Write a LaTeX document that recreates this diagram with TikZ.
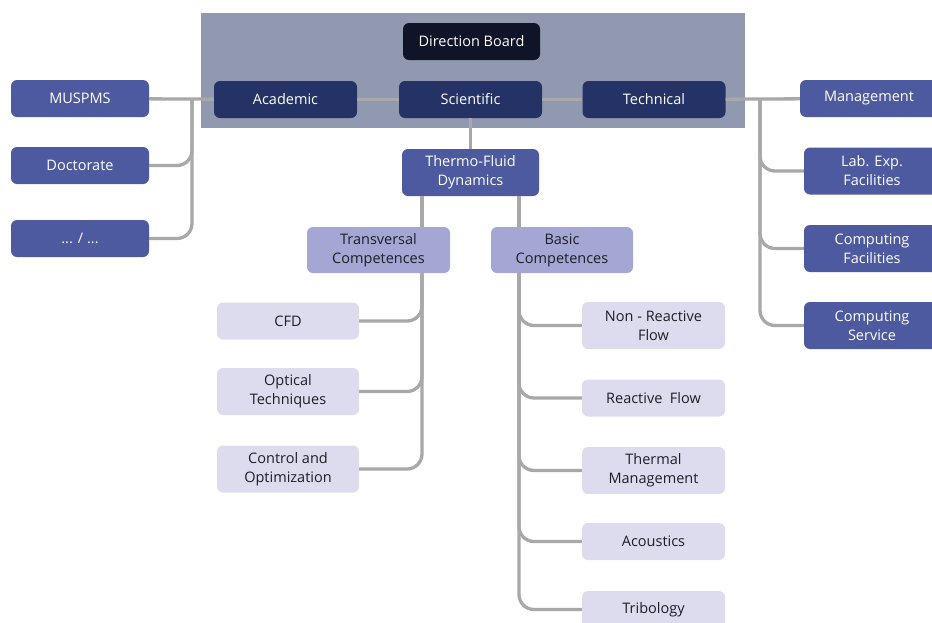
\documentclass[tikz,border=0pt]{standalone}
\usepackage{fontspec}
\setmainfont{Open Sans}
\usepackage{tikz}
\usetikzlibrary{positioning}
\definecolor{panelgray}{HTML}{9199B1}
\definecolor{boardnavy}{HTML}{0F1429}
\definecolor{deptnavy}{HTML}{243265}
\definecolor{unitblue}{HTML}{4E5A9F}
\definecolor{groupviolet}{HTML}{A4A7D3}
\definecolor{leaflilac}{HTML}{DCDCEE}
\definecolor{linkgray}{HTML}{A8A8A8}
\definecolor{inkdark}{HTML}{1E1E28}

\begin{document}
\begin{tikzpicture}[
    x=1pt, y=-1pt,
    every node/.style={rounded corners=6pt, align=center, font=\fontsize{14.5}{19}\selectfont, minimum height=37pt, minimum width=143pt, inner sep=2pt},
    boardbox/.style={fill=boardnavy, text=white, minimum width=137pt},
    deptbox/.style={fill=deptnavy, text=white},
    unitbox/.style={fill=unitblue, text=white},
    groupbox/.style={fill=groupviolet, text=inkdark, minimum height=46pt},
    leafbox/.style={fill=leaflilac, text=inkdark},
    link/.style={draw=linkgray, line width=3.3pt, rounded corners=15pt}
]
\useasboundingbox (0,0) rectangle (932,622);
\clip (0,0) rectangle (932,622);
\fill[panelgray] (201,13) rectangle (745,128);

% direction level
\node[boardbox] (board) at (471.5,41.5) {Direction Board};
\node[deptbox] (academic) at (285.5,99.5) {Academic};
\node[deptbox] (scientific) at (470.5,99.5) {Scientific};
\node[deptbox] (technical) at (654,99.5) {Technical};

% academic side
\node[unitbox, minimum width=138pt] (muspms) at (80,98.5) {MUSPMS};
\node[unitbox, minimum width=138pt] (doctorate) at (80,165.5) {Doctorate};
\node[unitbox, minimum width=138pt] (others) at (80,238.5) {... / ...};

% technical side
\node[unitbox, minimum width=138pt] (management) at (869,98.5) {Management};
\node[unitbox, minimum width=136pt, minimum height=47pt] (labexp) at (872,171) {Lab. Exp.\\Facilities};
\node[unitbox, minimum width=136pt, minimum height=47pt] (compfac) at (872,248.5) {Computing\\Facilities};
\node[unitbox, minimum width=136pt, minimum height=47pt] (compserv) at (872,325.5) {Computing\\Service};

% scientific side
\node[unitbox, minimum width=137pt, minimum height=47pt] (thermo) at (470.5,172.5) {Thermo-Fluid\\Dynamics};
\node[groupbox] (transversal) at (378.5,250) {Transversal\\Competences};
\node[groupbox, minimum width=142pt] (basic) at (562,250) {Basic\\Competences};

\node[leafbox, minimum width=142pt] (cfd) at (288,321) {CFD};
\node[leafbox, minimum width=142pt, minimum height=47pt] (optical) at (288,391.5) {Optical\\Techniques};
\node[leafbox, minimum width=142pt, minimum height=47pt] (control) at (288,469) {Control and\\Optimization};

\node[leafbox, minimum height=47pt] (nonreact) at (653.5,325.5) {Non - Reactive\\Flow};
\node[leafbox] (reactive) at (653.5,398) {Reactive~~Flow};
\node[leafbox, minimum height=47pt] (thermal) at (653.5,470.5) {Thermal\\Management};
\node[leafbox] (acoustics) at (653.5,541.5) {Acoustics};
\node[leafbox] (tribology) at (653.5,609.5) {Tribology};

% connectors
\coordinate (lbus) at (192,0);
\coordinate (rbus) at (760,0);
\coordinate (tbus) at (422,0);
\coordinate (bbus) at (519,0);

\draw[link] (academic) -- (scientific);
\draw[link] (scientific) -- (technical);
\draw[link] (scientific) -- (thermo);

\draw[link] (muspms) -- (academic);
\draw[link] (lbus |- academic.west) |- (doctorate.east);
\draw[link] (lbus |- academic.west) |- (others.east);

\draw[link] (technical) -- (management);
\draw[link] (rbus |- technical.east) |- (labexp.west);
\draw[link] (rbus |- technical.east) |- (compfac.west);
\draw[link] (rbus |- technical.east) |- (compserv.west);

\draw[link] (tbus |- thermo.south) -- (tbus |- transversal.north);
\draw[link] (bbus |- thermo.south) -- (bbus |- basic.north);

\draw[link] (tbus |- transversal.south) |- (cfd.east);
\draw[link] (tbus |- transversal.south) |- (optical.east);
\draw[link] (tbus |- transversal.south) |- (control.east);

\draw[link] (bbus |- basic.south) |- (nonreact.west);
\draw[link] (bbus |- basic.south) |- (reactive.west);
\draw[link] (bbus |- basic.south) |- (thermal.west);
\draw[link] (bbus |- basic.south) |- (acoustics.west);
\draw[link] (bbus |- basic.south) |- (tribology.west);
\end{tikzpicture}
\end{document}
